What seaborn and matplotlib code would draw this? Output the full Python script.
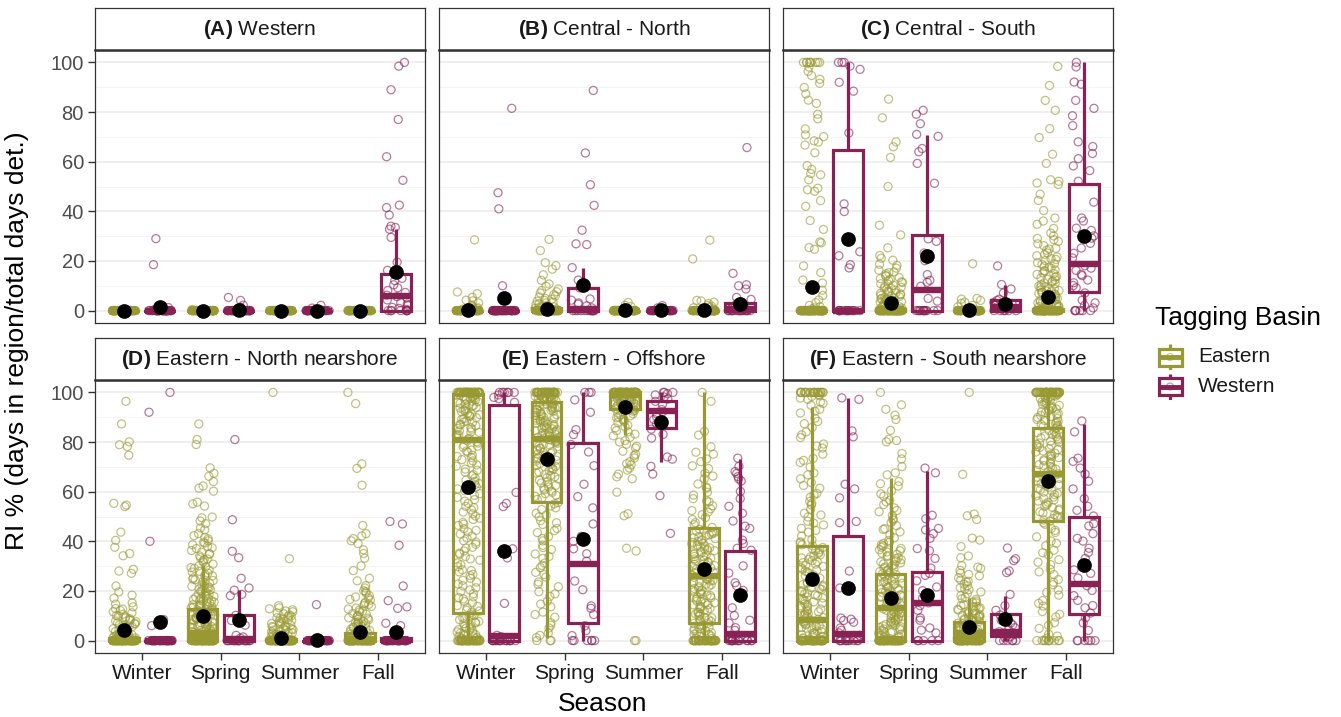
import numpy as np
import pandas as pd
import matplotlib
matplotlib.use("Agg")
import matplotlib.pyplot as plt
import seaborn as sns
from matplotlib.patches import Rectangle

sns.set_theme(style="white")
plt.rcParams['font.family'] = ['Liberation Sans', 'DejaVu Sans']
plt.rcParams['mathtext.fontset'] = 'custom'
plt.rcParams['mathtext.rm'] = 'Liberation Sans'
plt.rcParams['mathtext.bf'] = 'Liberation Sans:bold'
np.random.seed(11)

# ---------------- data ----------------
SEASONS = ["Winter", "Spring", "Summer", "Fall"]
BASINS = ["Eastern", "Western"]
COLORS = {"Eastern": "#999933", "Western": "#882255"}
PANEL_TAGS = ["(A)", "(B)", "(C)", "(D)", "(E)", "(F)"]
PANEL_NAMES = ["Western", "Central - North", "Central - South",
               "Eastern - North nearshore", "Eastern - Offshore",
               "Eastern - South nearshore"]
# group order in every array: Winter-E, Winter-W, Spring-E, Spring-W, Summer-E, Summer-W, Fall-E, Fall-W
# *_n0 / *_n100: number of detections at exactly 0 % / 100 %; *_vals: the other values

# ---- (A) Western
A_q1 = [0, 0, 0, 0, 0, 0, 0, 0]
A_med = [0, 0, 0, 0, 0, 0, 0, 6]
A_q3 = [0, 0, 0, 0, 0, 0, 0, 14.7]
A_lo = [0, 0, 0, 0, 0, 0, 0, 0]
A_hi = [0, 0, 0, 0, 0, 0, 0, 33]
A_mean = [0, 1.3, 0, 0.3, 0, 0, 0, 15.7]
A_n0 = [60, 40, 60, 35, 60, 30, 60, 8]
A_n100 = [0, 0, 0, 0, 0, 0, 0, 1]
A_vals = [
    [],
    [29, 18.5, 1.2, 0.6],
    [0.4],
    [5.3, 4.1, 2.2, 1.4, 0.8],
    [],
    [2.1, 1.0],
    [],
    [98.5, 89, 77, 62, 52.5, 42.5, 41.5, 38.5, 34, 33.5, 32.8, 29.5, 19.5, 16.2, 13, 12.1,
     10.4, 9.2, 8.1, 7.3, 6.2, 5.6, 5.1, 4.3, 3.2, 2.6, 2.1, 1.3, 0.9, 0.5],
]

# ---- (B) Central - North
B_q1 = [0, 0, 0, 0, 0, 0, 0, 0]
B_med = [0, 0, 0, 0.5, 0, 0, 0, 0.5]
B_q3 = [0, 0, 1, 9.3, 0, 0, 0, 2.9]
B_lo = [0, 0, 0, 0, 0, 0, 0, 0]
B_hi = [0, 0, 2.5, 17, 0, 0, 0, 4.4]
B_mean = [0.4, 5.1, 0.7, 10.4, 0.1, 0.1, 0.4, 2.7]
B_n0 = [60, 40, 60, 14, 60, 30, 60, 18]
B_n100 = [0, 0, 0, 0, 0, 0, 0, 0]
B_vals = [
    [28.5, 7.5, 6.8, 5.3, 4.2, 3.9, 3.1, 2.2, 1.8, 1.4, 1.1, 0.7, 0.5],
    [81.5, 47.5, 41, 10],
    [28.7, 24.2, 19.3, 18.1, 16.7, 14.4, 12.2, 10.7, 9.8, 8.7, 8.1, 7.6, 7.1, 6.4, 5.9, 5.5,
     4.9, 4.6, 4.1, 3.8, 3.4, 3.1, 2.8, 2.4, 2.1, 1.7, 1.5, 1.2, 0.9, 0.6],
    [88.7, 63.5, 50.7, 42.4, 32.4, 26.9, 26.6, 17.3, 12.3, 9.1, 4.7, 4.2, 3.1, 2.6, 1.9, 1.1],
    [3.3, 2.1, 1.6, 0.9],
    [2.0, 1.1],
    [28.4, 20.8, 4.1, 3.9, 3.4, 2.9, 2.1, 1.8, 1.4, 1.1, 0.7],
    [65.7, 15, 10.4, 10, 8.7, 5.3, 4.5, 3.6, 3.1, 2.6, 2.1, 1.6, 1.2, 0.8],
]

# ---- (C) Central - South
C_q1 = [0, 0, 0, 0, 0, 0, 0, 7.3]
C_med = [0, 0, 0, 8.4, 0, 1.5, 0, 18.7]
C_q3 = [0, 64.7, 0.5, 30.4, 0, 4.4, 0.8, 51]
C_lo = [0, 0, 0, 0, 0, 0, 0, 0]
C_hi = [0, 100, 1.2, 70.7, 0, 10.5, 2, 100]
C_mean = [9.7, 29, 3.1, 22, 0.1, 2.7, 5.3, 30]
C_n0 = [75, 14, 70, 12, 60, 6, 75, 6]
C_n100 = [9, 3, 0, 0, 0, 0, 0, 1]
C_vals = [
    [98.1, 96.4, 94.7, 93.2, 91.6, 89.9, 87.3, 84.8, 83.5, 79.1, 77.3, 73.2, 70.8, 70.1, 68.4,
     67.9, 66.7, 63.6, 58.4, 56.9, 55.2, 54.7, 52.7, 49.3, 48.7, 48.1, 44.3, 42, 36.3, 32.7,
     27.7, 27.3, 24.7, 25.4, 18, 15.3, 12.3, 11.1, 8.2, 6.1, 4.3, 3.2, 2.1, 1.6, 1.1, 0.6],
    [98.5, 97.2, 92, 88.4, 71.6, 43, 39.9, 23.7, 22.1, 18.5, 17.2],
    [85.2, 77.7, 68, 66, 61.7, 50, 34.4, 30.5, 25.3, 22.2, 21.1, 20.3, 18.7, 18.2, 17.1, 16.3,
     15.6, 14.8, 14.1, 13.3, 12.9, 12.1, 11.6, 10.8, 10.2, 9.7, 9.1, 8.6, 8.2, 7.5, 7.1, 6.7,
     6.3, 5.8, 5.4, 5.1, 4.7, 4.3, 3.9, 3.6, 3.2, 2.9, 2.5, 2.2, 1.9, 1.6, 1.3, 1.0, 0.7, 0.4,
     15.3, 13.9, 12.6, 11.3, 10.6, 9.4, 8.9, 7.8, 6.9, 6.1, 5.6, 4.9, 4.5, 3.7, 3.3, 2.7, 2.4,
     1.8, 1.4, 1.1, 0.8, 0.5, 0.2],
    [80.7, 79.1, 75.3, 71, 70.2, 65.3, 64, 59.3, 51.3, 28.9, 27.9, 23.2, 20.1, 14.5, 12.2,
     11.4, 9.8, 4.9, 3.8],
    [18.9, 4.9, 4.6, 4.1, 3.4, 2.9, 2.1, 1.5, 1.1, 0.6],
    [18, 10.5, 8.7, 7.1, 4.6, 4.1, 3.3, 2.9, 2.1, 1.4, 0.9],
    [98.4, 90.7, 84.7, 80.7, 73.3, 69.7, 63, 59.3, 52.7, 52.1, 51.4, 50.8, 46.9, 44.4, 40.3,
     37.3, 36.1, 34.8, 33.1, 31.2, 30.1, 28.6, 27.9, 26.2, 25.1, 24.3, 23.2, 22.1, 21.6, 20.9,
     20.2, 19.3, 18.6, 17.8, 17.1, 16.4, 15.9, 15.2, 14.6, 13.8, 13.1, 12.4, 11.9, 11.2, 10.5,
     9.9, 9.4, 8.8, 8.1, 7.6, 7.2, 6.7, 6.1, 5.6, 5.2, 4.7, 4.1, 3.6, 3.1, 2.6, 2.1, 1.6, 1.2,
     0.8, 0.4, 29.1, 26.9, 24.8, 22.6, 20.6, 18.9, 17.4, 16.1, 14.9, 13.5, 12.6, 11.5, 10.9,
     9.6, 8.9, 8.4, 7.9, 7.3, 6.9, 6.4, 5.9, 5.4, 4.9, 4.4, 3.9, 3.4, 2.9, 2.4, 1.9, 1.4, 1.0,
     0.6],
    [98.2, 92.1, 91.2, 84.7, 81.5, 78.5, 74.5, 68, 66.1, 63.3, 61.2, 58.3, 56.4, 52.1, 43.7,
     37.3, 36.1, 33.2, 32.3, 30.1, 29.2, 27.1, 25.2, 23.1, 21.2, 18.1, 17.1, 16.2, 14.6, 14.1,
     12.3, 11.2, 10.1, 9.2, 7.1, 4.2, 3.1, 2.1, 1.1],
]

# ---- (D) Eastern - North nearshore
D_q1 = [0, 0, 0, 0, 0, 0, 0, 0]
D_med = [0, 0, 3, 0.5, 0, 0, 0, 0]
D_q3 = [1, 0, 12.9, 10.3, 0.5, 0, 3, 1]
D_lo = [0, 0, 0, 0, 0, 0, 0, 0]
D_hi = [2.5, 0, 30.4, 20.4, 1.2, 0, 7.5, 2.5]
D_mean = [4.3, 7.3, 10, 8.4, 0.9, 0.3, 3.6, 3.6]
D_n0 = [75, 35, 65, 20, 70, 30, 75, 30]
D_n100 = [0, 1, 0, 0, 1, 0, 1, 0]
D_vals = [
    [96.4, 87.3, 80.1, 78.9, 78.2, 74.7, 55.3, 54.6, 54, 43.7, 40.4, 37.6, 35.1, 34.2, 28.7,
     28, 27.1, 22, 19.6, 17.1, 15.2, 13.6, 12.7, 12.1, 11.2, 10.6, 10.1, 9.6, 9.1, 8.4, 8.1,
     7.6, 7.2, 6.7, 6.3, 5.9, 5.4, 5.1, 4.8, 4.4, 4.1, 3.7, 3.3, 3.0, 2.7, 2.3, 2.0, 1.7, 1.4,
     1.1, 0.8, 0.5, 18.3, 14.7, 12.9, 11.6, 9.8, 8.8, 7.9, 6.9, 6.1, 5.6, 4.9, 4.3, 3.8, 3.5,
     2.8, 2.4, 1.9, 1.6, 1.2, 0.9, 0.6, 0.3],
    [92, 40, 8.5, 6],
    [87.3, 81, 79, 69.6, 67.4, 66.2, 64.1, 62.3, 61.4, 60.2, 55.8, 55.1, 54.2, 49.8, 49.5,
     48.2, 47.1, 45.4, 44.6, 43.1, 42.3, 41.6, 41, 40.2, 39.3, 38.6, 38, 37.1, 36.3, 35.6, 35,
     34.1, 33.4, 32.9, 32.1, 31.6, 30.8, 30.2, 29.7, 29.1, 28.4, 27.9, 27.2, 26.6, 26.1, 25.3,
     24.8, 24.2, 23.7, 23.1, 22.4, 21.9, 21.3, 20.8, 20.2, 19.7, 19.1, 18.6, 18.1, 17.5, 17,
     16.6, 16.1, 15.5, 15.1, 14.6, 14.2, 13.7, 13.2, 12.8, 12.3, 11.9, 11.4, 11, 10.5, 10.1,
     9.6, 9.2, 8.7, 8.3, 7.8, 7.4, 6.9, 6.5, 6.1, 5.6, 5.2, 4.8, 4.3, 3.9, 3.5, 3.1, 2.7, 2.3,
     1.9, 1.5, 1.1, 0.7, 0.3, 39.6, 37.4, 34.8, 32.6, 29.4, 27.6, 25.8, 24.5, 23.4, 22.1, 21.1,
     20.5, 19.9, 18.8, 17.8, 16.9, 16.3, 15.8, 14.8, 14.4, 13.9, 13.4, 12.6, 12.1, 11.6, 11.2,
     10.7, 10.3, 9.9, 9.4, 8.9, 8.5, 8.1, 7.6, 7.2, 6.7, 6.3, 5.9, 5.4, 5.0, 4.6, 4.1, 3.7,
     3.3, 2.9, 2.5, 2.1, 1.7, 1.3, 0.9, 0.5],
    [81, 48.7, 36, 33.4, 25.1, 21.2, 20.3, 18.6, 18.1, 10.2, 8.1, 6.2, 2.1, 1.5, 1],
    [33, 14.1, 13.2, 12.4, 11.6, 11.1, 10.3, 9.7, 9.2, 8.6, 8.1, 7.7, 7.1, 6.6, 6.2, 5.7, 5.3,
     4.8, 4.4, 4.1, 3.7, 3.3, 2.9, 2.5, 2.1, 1.8, 1.4, 1.1, 0.7, 0.4, 12.8, 11.9, 10.8, 9.9,
     9.0, 8.3, 7.4, 6.9, 6.0, 5.5, 4.6, 4.2, 3.5, 3.1, 2.6, 2.2, 1.6, 1.2, 0.8, 0.5, 0.2],
    [14.5, 1],
    [95.5, 71.2, 69.4, 62.6, 46.4, 43.1, 42.2, 41.1, 40.2, 39.1, 36.6, 35.1, 33.2, 30.1, 28.2,
     25.1, 24.1, 22.1, 21.2, 20.1, 19.2, 18.1, 17.2, 16.3, 15.4, 14.6, 13.8, 13.1, 12.3, 11.6,
     10.9, 10.2, 9.6, 9, 8.4, 7.8, 7.3, 6.8, 6.2, 5.7, 5.2, 4.8, 4.3, 3.9, 3.5, 3.1, 2.7, 2.3,
     1.9, 1.5, 1.1, 0.7, 0.4, 19.7, 17.6, 16.6, 14.9, 14.1, 12.7, 11.9, 10.6, 9.8, 9.2, 8.6,
     7.6, 7.0, 6.4, 5.9, 5.4, 4.5, 4.1, 3.6, 3.2, 2.8, 2.5, 2.1, 1.7, 1.3, 0.9, 0.6, 0.3],
    [48, 47, 38.4, 22, 16.1, 13.6, 13, 7, 6, 2],
]

# ---- (E) Eastern - Offshore
E_q1 = [11.3, 0, 56, 7, 93.5, 85.6, 7, 0]
E_med = [81, 2, 81.3, 30.7, 99, 92.7, 26, 2.5]
E_q3 = [99.3, 95, 96, 79.7, 100, 96.7, 45.3, 36]
E_lo = [0, 0, 1, 0, 83, 72, 0, 0]
E_hi = [100, 100, 100, 100, 100, 100, 100, 73.3]
E_mean = [61.7, 36.3, 73, 41, 94.3, 88, 28.7, 18.4]
E_n0 = [50, 16, 3, 6, 2, 0, 45, 14]
E_n100 = [45, 6, 40, 3, 55, 3, 1, 0]
E_vals = [
    [99.6, 99.2, 98.9, 98.5, 98.1, 97.8, 97.3, 96.9, 96.5, 96.0, 95.6, 95.1, 94.5, 94.0, 93.4,
     92.9, 92.2, 91.6, 91.0, 90.3, 89.8, 89.1, 88.4, 87.9, 87.1, 86.6, 85.8, 85.2, 84.5, 83.9,
     83.1, 82.6, 81.7, 81.2, 80.5, 79.6, 78.7, 77.9, 76.8, 75.9, 74.7, 73.8, 72.4, 71.6, 70.3,
     69.1, 67.9, 66.4, 65.5, 64.2, 62.8, 61.9, 60.4, 59.2, 57.7, 56.8, 55.3, 54.1, 52.6, 51.8,
     50.2, 49.3, 47.6, 46.4, 45.1, 43.8, 42.9, 41.3, 40.2, 38.8, 37.6, 36.1, 35.2, 33.9, 32.4,
     31.3, 29.8, 28.5, 27.7, 26.2, 25.1, 23.6, 22.8, 21.3, 20.4, 18.9, 17.6, 16.8, 15.2, 14.1,
     13.3, 12.2, 11.4, 10.6, 9.8, 9.1, 8.4, 7.7, 7.1, 6.3, 5.7, 5.0, 4.4, 3.8, 3.1, 2.6, 2.0,
     1.5, 1.0, 0.5, 99.8, 99.4, 99.0, 98.3, 97.6, 97.0, 96.3, 95.3, 94.8, 93.7, 92.5, 91.3,
     90.7, 89.4, 88.1, 86.9, 85.5, 84.1, 82.9, 81.5, 80.1, 78.3, 76.4, 74.2, 72.9, 70.8, 68.6,
     66.9, 64.7, 63.3, 61.1, 58.5, 56.2, 53.6, 51.1, 48.8, 46.9, 44.4, 42.1, 39.7, 37.3, 34.8,
     32.9, 30.6, 28.2, 26.7, 24.3, 22.1, 19.8, 17.3, 15.8, 13.8, 11.9, 10.2, 8.9, 7.4, 6.8,
     5.3, 4.7, 3.5, 2.9, 2.3, 1.7, 1.2, 0.7, 0.3],
    [99, 98, 97.5, 96, 59.7, 55.3, 54, 37, 33.3, 15, 2.1, 1.6, 1.1],
    [99.5, 99.1, 98.7, 98.2, 97.8, 97.4, 96.9, 96.4, 96.0, 95.5, 95.1, 94.6, 94.1, 93.7, 93.2,
     92.8, 92.3, 91.7, 91.2, 90.8, 90.2, 89.7, 89.1, 88.6, 88.0, 87.5, 86.9, 86.4, 85.8, 85.3,
     84.7, 84.1, 83.6, 83.0, 82.4, 81.9, 81.3, 80.8, 80.2, 79.5, 78.8, 78.1, 77.3, 76.6, 75.8,
     75.1, 74.3, 73.5, 72.7, 71.9, 71.0, 70.2, 69.3, 68.4, 67.5, 66.5, 65.6, 64.6, 63.5, 62.5,
     61.4, 60.3, 59.2, 58.1, 56.9, 55.6, 54.2, 52.8, 51.3, 49.9, 48.3, 46.8, 45.2, 43.5, 41.9,
     40.2, 38.4, 36.7, 34.9, 33.1, 31.2, 29.4, 27.5, 25.6, 23.6, 21.7, 19.7, 17.8, 15.8, 13.6,
     11.5, 9.4, 7.2, 5.1, 3.0, 1.2, 99.7, 99.3, 98.9, 98.4, 98.0, 97.6, 97.1, 96.7, 96.2, 95.8,
     95.3, 94.9, 94.4, 93.9, 93.5, 93.0, 92.5, 92.0, 91.5, 91.0, 90.5, 90.0, 89.4, 88.8, 88.3,
     87.7, 87.2, 86.6, 86.1, 85.5, 85.0, 84.4, 83.8, 83.3, 82.7, 82.1, 81.6, 81.0, 80.5, 79.8,
     79.1, 78.4, 77.6, 76.9, 76.2, 75.4, 74.7, 73.9, 73.1, 72.3, 71.4, 70.6, 69.7, 68.9, 67.9,
     67.0, 66.0, 65.1, 64.1, 63.0, 61.9, 60.8, 59.7, 58.6, 57.5, 55.1, 53.5, 50.6, 47.5, 44.3,
     41.1, 37.5, 33.9, 30.3, 26.6, 22.7, 18.8, 14.7, 10.5, 6.2, 2.1],
    [97, 92, 85, 83, 79, 76, 70.5, 63, 58, 53.5, 47, 42, 40, 37, 35, 32, 24, 20.5, 14, 13,
     10.5, 6, 4, 2],
    [99.6, 99.3, 99.0, 98.7, 98.4, 98.1, 97.8, 97.4, 97.1, 96.8, 96.4, 96.0, 95.6, 95.2, 94.8,
     94.3, 93.8, 93.3, 92.7, 92.1, 91.4, 90.6, 89.8, 88.9, 87.9, 86.8, 85.7, 84.6, 83.2, 81.9,
     80.6, 79.1, 77.6, 76.3, 75.1, 73.6, 72.1, 70.8, 68.7, 67.1, 65.2, 59.8, 51.1, 50.3, 37.2,
     36.1, 99.8, 99.5, 99.2, 98.9, 98.6, 98.3, 97.9, 97.6, 97.2, 96.9, 96.6, 96.2, 95.8, 95.4,
     95.0, 94.5, 94.0, 93.5, 93.0, 92.4, 91.7, 90.9, 90.1, 89.2, 88.3, 86.2, 84.1, 82.5, 80.0,
     78.3, 74.5, 71.3, 69.5, 66.0],
    [99.5, 99, 98.1, 97.3, 96.4, 95.2, 93.1, 92.2, 91.4, 90.2, 89.1, 87.3, 85.2, 83.1, 81.6,
     74, 73.1, 70.2, 67.1, 58.4, 43.2],
    [96.4, 84.3, 82.8, 75.9, 75.1, 73.2, 72.1, 69.3, 67.4, 65.2, 63.1, 61.4, 59.8, 58.6, 57.2,
     55.9, 54.3, 53.1, 51.8, 50.7, 49.6, 48.8, 47.5, 46.7, 45.6, 44.8, 44.1, 43.3, 42.6, 41.8,
     41.1, 40.3, 39.6, 38.9, 38.1, 37.4, 36.6, 35.9, 35.1, 34.4, 33.7, 32.9, 32.2, 31.4, 30.7,
     29.9, 29.2, 28.5, 27.7, 27.0, 26.2, 25.5, 24.7, 24.0, 23.3, 22.5, 21.8, 21.0, 20.3, 19.6,
     18.8, 18.1, 17.3, 16.6, 15.8, 15.1, 14.4, 13.6, 12.9, 12.1, 11.4, 10.7, 9.9, 9.2, 8.4,
     7.7, 7.0, 6.2, 5.5, 4.7, 4.0, 3.3, 2.5, 1.8, 1.0, 0.4, 44.5, 43.7, 42.9, 42.2, 41.4, 40.7,
     39.9, 39.2, 38.4, 37.7, 36.9, 36.2, 35.4, 34.7, 33.9, 33.2, 32.4, 31.7, 30.9, 30.2, 29.4,
     28.7, 27.9, 27.2, 26.4, 25.7, 24.9, 24.2, 23.4, 22.7, 21.9, 21.2, 20.4, 19.7, 18.9, 18.2,
     17.4, 16.7, 15.9, 15.2, 14.4, 13.7, 12.9, 12.2, 11.4, 10.7, 9.9, 9.2, 8.4, 7.7, 6.9, 6.2,
     5.4, 4.7, 3.9, 3.2, 2.4, 1.7, 0.9, 0.2, 52.4, 56.3, 61.8, 66.3, 70.4, 78.1],
    [73.5, 70.2, 68.1, 67.4, 66.1, 65.2, 64.3, 60.1, 57.2, 54.1, 51.3, 48.2, 46.1, 45.2, 40.5,
     39.1, 37.2, 36.4, 30.1, 27.2, 23.3, 22.1, 20.2, 18.1, 13.2, 10.1, 8.2, 7.1, 5.2, 4.1, 2.1],
]

# ---- (F) Eastern - South nearshore
F_q1 = [0, 0, 0, 0, 0, 2, 48, 10.7]
F_med = [8.4, 2.5, 13.3, 15, 3, 3.6, 67.3, 23]
F_q3 = [38.3, 42, 27, 27.7, 7.6, 10.7, 85.6, 50]
F_lo = [0, 0, 0, 0, 0, 0, 0, 0]
F_hi = [94.3, 97.6, 65.6, 68.3, 17, 18, 100, 87.3]
F_mean = [24.7, 21, 17.3, 18.4, 5.6, 8.9, 64.4, 30.3]
F_n0 = [50, 10, 55, 5, 60, 6, 10, 6]
F_n100 = [22, 0, 1, 0, 1, 0, 45, 0]
F_vals = [
    [99.1, 98.4, 97.2, 96.1, 94.8, 93.2, 91.7, 89.6, 87.4, 85.9, 84.1, 81.8, 79.2, 77.6, 75.1,
     73.4, 71.8, 69.9, 67.5, 65.2, 63.7, 61.4, 59.3, 57.8, 56.1, 54.6, 52.9, 51.3, 49.8, 48.1,
     46.6, 45.2, 43.7, 42.1, 40.6, 39.4, 38.2, 37.1, 36.3, 35.2, 34.1, 33.3, 32.2, 31.4, 30.3,
     29.5, 28.4, 27.6, 26.5, 25.7, 24.8, 23.9, 23.1, 22.2, 21.4, 20.6, 19.7, 18.9, 18.1, 17.2,
     16.4, 15.6, 14.8, 14.0, 13.2, 12.4, 11.6, 10.8, 10.1, 9.3, 8.6, 7.8, 7.1, 6.4, 5.7, 5.0,
     4.3, 3.6, 2.9, 2.3, 1.7, 1.1, 0.6, 39.8, 38.6, 37.5, 36.7, 35.6, 34.6, 33.7, 32.7, 31.8,
     30.8, 29.9, 28.9, 28.0, 27.0, 26.1, 25.2, 24.3, 23.4, 22.6, 21.7, 20.9, 20.1, 19.2, 18.4,
     17.6, 16.8, 15.9, 15.1, 14.3, 13.5, 12.7, 11.9, 11.1, 10.4, 9.7, 8.9, 8.2, 7.5, 6.7, 6.0,
     5.3, 4.6, 3.9, 3.2, 2.6, 2.0, 1.4, 0.8, 0.3, 98.7, 97.7, 95.6, 92.4, 88.3, 82.9, 78.4,
     72.6, 66.8, 62.5, 58.6, 55.3, 50.6, 47.3, 44.4],
    [97.8, 97.2, 84.5, 82.1, 63, 61.1, 57.5, 48, 47.5, 28, 21.2, 9.1, 8.6, 8.1, 7.4, 5.1, 4.2,
     3.1, 2.1, 1.1],
    [95, 93.2, 90.8, 89.1, 84.7, 81.1, 80.6, 80.1, 75.4, 73.2, 70.1, 67.6, 66.8, 64.1, 62.3,
     60.4, 58.2, 56.6, 54.8, 53.5, 51.9, 50.4, 49.1, 47.6, 46.3, 45.1, 43.8, 42.6, 41.4, 40.3,
     39.2, 38.1, 37.1, 36.2, 35.2, 34.3, 33.4, 32.6, 31.7, 30.9, 30.1, 29.3, 28.5, 27.8, 27.0,
     26.3, 25.6, 24.9, 24.2, 23.5, 22.8, 22.1, 21.4, 20.8, 20.1, 19.4, 18.8, 18.1, 17.5, 16.8,
     16.2, 15.6, 14.9, 14.3, 13.7, 13.1, 12.5, 11.9, 11.3, 10.7, 10.1, 9.5, 8.9, 8.3, 7.7, 7.1,
     6.5, 5.9, 5.3, 4.7, 4.1, 3.5, 2.9, 2.3, 1.7, 1.1, 0.5, 39.7, 38.6, 37.6, 36.6, 35.7,
     34.8, 33.9, 33.0, 32.1, 31.3, 30.5, 29.7, 28.9, 28.1, 27.4, 26.6, 25.9, 25.2, 24.5, 23.8,
     23.1, 22.4, 21.7, 21.1, 20.4, 19.7, 19.1, 18.4, 17.8, 17.1, 16.5, 15.9, 15.2, 14.6, 14.0,
     13.4, 12.8, 12.2, 11.6, 11.0, 10.4, 9.8, 9.2, 8.6, 8.0, 7.4, 6.8, 6.2, 5.6, 5.0, 4.4, 3.8,
     3.2, 2.6, 2.0, 1.4, 0.8, 0.2, 44.8, 48.5, 52.4, 55.9, 59.1, 63.2],
    [69.5, 67.6, 50.5, 49.1, 45.2, 44.6, 43.1, 41.2, 37.1, 36.2, 33.1, 29.2, 27.1, 26.3, 24.1,
     21.6, 20.1, 18.2, 17.1, 15.2, 14.1, 12.2, 9.1, 8.2, 5.1, 4.2, 3.1],
    [67, 51, 50.3, 48.8, 41.3, 40.5, 37.9, 34.1, 33.4, 30.2, 29.1, 28.3, 27.2, 26.1, 25.3, 24.4,
     23.6, 22.7, 22.1, 21.3, 20.5, 19.6, 18.9, 18.1, 17.4, 16.6, 15.9, 15.2, 14.5, 13.8, 13.2,
     12.6, 12.0, 11.4, 10.8, 10.2, 9.7, 9.2, 8.7, 8.2, 7.7, 7.2, 6.8, 6.3, 5.9, 5.5, 5.1, 4.7,
     4.3, 3.9, 3.5, 3.1, 2.7, 2.3, 1.9, 1.5, 1.1, 0.7, 0.3, 16.9, 15.5, 14.1, 13.5, 12.9,
     12.3, 11.7, 11.1, 10.5, 9.9, 9.4, 8.9, 8.4, 7.9, 7.4, 7.0, 6.5, 6.1, 5.7, 5.3, 4.9, 4.5,
     4.1, 3.7, 3.3, 2.9, 2.5, 2.1, 1.7, 1.3, 0.9, 0.5, 0.2, 20.8, 23.9, 26.7, 29.6],
    [37.3, 33, 32.2, 28.1, 27.4, 18.6, 14.1, 12.2, 10.3, 9.1, 8.2, 7.1, 6.3, 5.2, 4.4, 3.6,
     3.1, 2.4, 1.6, 1.1],
    [99.4, 98.8, 98.2, 97.5, 96.9, 96.2, 95.5, 94.8, 94.1, 93.3, 92.6, 91.8, 91.1, 90.3, 89.5,
     88.7, 87.9, 87.1, 86.3, 85.5, 84.6, 83.8, 83.0, 82.1, 81.3, 80.4, 79.6, 78.7, 77.8, 76.9,
     76.0, 75.1, 74.2, 73.3, 72.4, 71.4, 70.5, 69.6, 68.6, 67.7, 66.7, 65.8, 64.8, 63.8, 62.8,
     61.8, 60.8, 59.8, 58.8, 57.8, 56.7, 55.7, 54.6, 53.6, 52.5, 51.4, 50.3, 49.2, 48.1, 46.9,
     45.2, 43.6, 41.8, 40.1, 38.2, 36.4, 34.5, 32.6, 30.6, 28.7, 26.6, 24.6, 22.5, 20.4, 18.3,
     16.1, 13.9, 11.7, 9.5, 7.2, 4.9, 2.6, 0.9, 99.7, 99.1, 98.5, 97.9, 97.2, 96.6, 95.9, 95.2,
     94.5, 93.7, 93.0, 92.2, 91.4, 90.7, 89.9, 89.1, 88.3, 87.5, 86.7, 85.9, 85.1, 84.2, 83.4,
     82.5, 81.7, 80.8, 80.0, 79.1, 78.2, 77.3, 76.4, 75.5, 74.6, 73.7, 72.8, 71.9, 70.9, 70.0,
     69.1, 68.1, 67.2, 66.2, 65.3, 64.3, 63.3, 62.3, 61.3, 60.3, 59.3, 58.3, 57.2, 56.2, 55.1,
     54.1, 53.0, 51.9, 50.8, 49.7, 48.6, 47.5, 44.4, 39.2, 35.4, 31.6, 27.7, 23.5, 19.4, 15.0,
     10.6, 6.1, 1.8],
    [88.5, 84.1, 73.5, 72.2, 69.5, 67.1, 64.2, 61.1, 57.2, 54.1, 52.5, 50.2, 47.1, 46.2, 43.1,
     41.2, 40.1, 37.2, 35.5, 33.1, 31.2, 28.5, 27.1, 25.2, 22.1, 20.2, 18.1, 16.2, 14.1, 13.2,
     11.1, 9.2, 7.1, 4.1],
]

PANELS = [
    (A_q1, A_med, A_q3, A_lo, A_hi, A_mean, A_n0, A_n100, A_vals),
    (B_q1, B_med, B_q3, B_lo, B_hi, B_mean, B_n0, B_n100, B_vals),
    (C_q1, C_med, C_q3, C_lo, C_hi, C_mean, C_n0, C_n100, C_vals),
    (D_q1, D_med, D_q3, D_lo, D_hi, D_mean, D_n0, D_n100, D_vals),
    (E_q1, E_med, E_q3, E_lo, E_hi, E_mean, E_n0, E_n100, E_vals),
    (F_q1, F_med, F_q3, F_lo, F_hi, F_mean, F_n0, F_n100, F_vals),
]

# ---------------- layout ----------------
W, H = 1341, 717
fig = plt.figure(figsize=(W / 100, H / 100), dpi=100)
fig.patch.set_facecolor("white")

COL_X = [95, 439, 783]
PANEL_W = 330
ROW_PLOT_TOP = [50, 380]
PANEL_H = 273
ROW_STRIP_TOP = [8, 338]
STRIP_H = 42
OFFSET = 0.23
BOXW = 0.375
BORDER = "#333333"

GROUPS = [(si, b) for si in range(len(SEASONS)) for b in BASINS]


def frac_rect(x0, ytop, w, h):
    return [x0 / W, 1 - (ytop + h) / H, w / W, h / H]


def group_pos(si, b):
    return si + (-OFFSET if b == "Eastern" else OFFSET)


for k, (q1, med, q3, lo, hi, mean, n0, n100, vals) in enumerate(PANELS):
    col, row = k % 3, k // 3
    ax = fig.add_axes(frac_rect(COL_X[col], ROW_PLOT_TOP[row], PANEL_W, PANEL_H))

    rows = []
    for g, (si, b) in enumerate(GROUPS):
        pos = group_pos(si, b)
        group_vals = list(np.repeat(0.0, n0[g])) + list(np.repeat(100.0, n100[g])) + list(vals[g])
        for v in group_vals:
            rows.append({"pos": pos, "RI": v, "basin": b})
    df = pd.DataFrame(rows)

    sns.stripplot(data=df, x="pos", y="RI", hue="basin", hue_order=BASINS,
                  palette=COLORS, native_scale=True, jitter=0.33, size=5.8,
                  linewidth=0, ax=ax, legend=False, zorder=1)
    for coll in ax.collections:
        fc = coll.get_facecolors()
        if len(fc) == 0:
            continue
        ec = np.array(fc, dtype=float).copy()
        ec[:, 3] = 0.6
        coll.set_edgecolors(ec)
        coll.set_facecolors("none")
        coll.set_linewidths(0.9)

    for b in BASINS:
        stats, positions = [], []
        for g, (si, bb) in enumerate(GROUPS):
            if bb != b:
                continue
            stats.append(dict(q1=q1[g], med=med[g], q3=q3[g], whislo=lo[g], whishi=hi[g],
                              fliers=[]))
            positions.append(group_pos(si, b))
        c = COLORS[b]
        ax.bxp(stats, positions=positions, widths=BOXW, showfliers=False, showcaps=False,
               manage_ticks=False, zorder=3,
               boxprops=dict(color=c, linewidth=2.3, solid_joinstyle="miter"),
               whiskerprops=dict(color=c, linewidth=2.3, solid_capstyle="butt"),
               medianprops=dict(color=c, linewidth=4.6, solid_capstyle="butt"))

    mpos = [group_pos(si, b) for (si, b) in GROUPS]
    ax.scatter(mpos, mean, s=112, color="black", linewidths=0, zorder=5)

    ax.set_xlim(-0.6, 3.6)
    ax.set_ylim(-5, 105)
    ax.set_xlabel("")
    ax.set_ylabel("")
    ax.set_facecolor("white")
    ax.set_yticks([0, 20, 40, 60, 80, 100])
    ax.set_yticks([10, 30, 50, 70, 90], minor=True)
    ax.grid(False)
    ax.yaxis.grid(True, which="major", color="#EBEBEB", linewidth=1.1)
    ax.yaxis.grid(True, which="minor", color="#F2F2F2", linewidth=0.6)
    ax.set_axisbelow(True)
    for sp in ax.spines.values():
        sp.set_color(BORDER)
        sp.set_linewidth(0.9)
    ax.set_xticks(range(len(SEASONS)))
    ax.tick_params(axis="y", which="minor", length=0)
    if col == 0:
        ax.set_yticklabels([str(v) for v in [0, 20, 40, 60, 80, 100]])
        ax.tick_params(axis="y", which="major", length=5, width=1, color=BORDER,
                       labelsize=14.5, labelcolor="#4D4D4D", pad=3, left=True)
    else:
        ax.tick_params(axis="y", which="major", length=0, labelleft=False)
    if row == 1:
        ax.set_xticklabels(SEASONS)
        ax.tick_params(axis="x", length=5, width=1, color=BORDER, labelsize=15,
                       labelcolor="#1A1A1A", pad=3, bottom=True)
    else:
        ax.tick_params(axis="x", length=0, labelbottom=False)

    sax = fig.add_axes(frac_rect(COL_X[col], ROW_STRIP_TOP[row], PANEL_W, STRIP_H))
    sax.set_facecolor("white")
    sax.set_xticks([])
    sax.set_yticks([])
    for name, sp in sax.spines.items():
        sp.set_color(BORDER)
        sp.set_linewidth(1.8 if name == "bottom" else 0.9)
    sax.text(0.5, 0.48, r"$\mathbf{" + PANEL_TAGS[k] + r"}$ " + PANEL_NAMES[k],
             ha="center", va="center", fontsize=15, color="#1A1A1A",
             transform=sax.transAxes)

fig.text(17 / W, 1 - 341 / H, "RI % (days in region/total days det.)", rotation=90,
         ha="center", va="center", fontsize=19, color="black")
fig.text(603 / W, 1 - 704 / H, "Season", ha="center", va="center", fontsize=19,
         color="black")

fig.text(1155 / W, 1 - 318 / H, "Tagging Basin", ha="left", va="center", fontsize=19,
         color="black")
for i, b in enumerate(BASINS):
    cy = 357 + i * 29.5
    kax = fig.add_axes(frac_rect(1155, cy - 13, 30, 26))
    kax.set_xlim(0, 30)
    kax.set_ylim(0, 26)
    kax.axis("off")
    c = COLORS[b]
    kax.add_patch(Rectangle((3.5, 4.5), 23, 17, fill=False, edgecolor=c, linewidth=2.3))
    kax.plot([15, 15], [0, 4.5], color=c, linewidth=2.3, solid_capstyle="butt")
    kax.plot([15, 15], [21.5, 26], color=c, linewidth=2.3, solid_capstyle="butt")
    kax.plot([3.5, 26.5], [13, 13], color=c, linewidth=3.5, solid_capstyle="butt")
    kax.scatter([15], [13], s=25, facecolors="none", edgecolors=[c], alpha=0.5, linewidths=0.85)
    fig.text(1198 / W, 1 - cy / H, b, ha="left", va="center", fontsize=15, color="#1A1A1A")

fig.savefig("out.png", dpi=100, facecolor="white")
